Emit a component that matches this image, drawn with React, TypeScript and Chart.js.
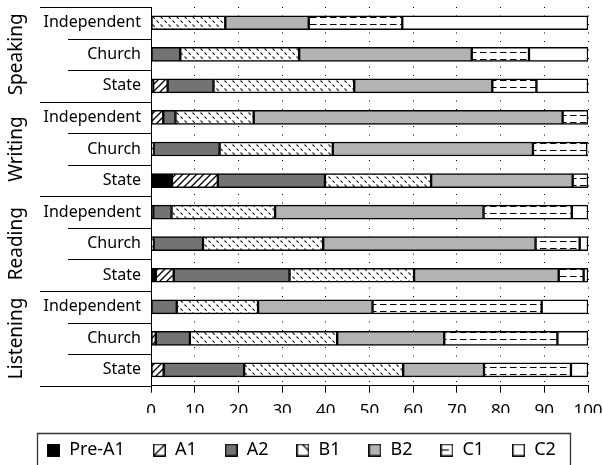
import React, { useEffect, useRef } from "react";
import { Chart, registerables } from "chart.js";

Chart.register(...registerables);

const skills = ["Speaking", "Writing", "Reading", "Listening"];
const schools = ["Independent", "Church", "State"];
const rowLabels = skills.flatMap(() => schools);
const levels = ["Pre-A1", "A1", "A2", "B1", "B2", "C1", "C2"];

// rows: Speaking (Ind, Church, State), Writing (...), Reading (...), Listening (...)
const preA1 = [0, 0, 0.5, 0, 0, 4.8, 0.5, 0, 1.1, 0, 0, 0];
const a1 = [0, 0, 3.3, 2.8, 0.6, 10.5, 0, 0.6, 4.1, 0, 1.1, 2.9];
const a2 = [0, 6.7, 10.5, 2.8, 15.1, 24.5, 4.2, 11.3, 26.5, 5.9, 7.8, 18.4];
const b1 = [17.0, 27.2, 32.2, 17.9, 25.9, 24.3, 23.7, 27.5, 28.5, 18.6, 33.7, 36.4];
const b2 = [19.1, 39.5, 31.6, 70.7, 45.8, 32.4, 47.7, 48.6, 33.1, 26.2, 24.5, 18.5];
const c1 = [21.4, 13.1, 10.1, 5.8, 12.4, 3.5, 20.2, 10.1, 5.7, 38.7, 25.9, 19.9];
const c2 = [42.5, 13.5, 11.8, 0, 0.2, 0, 3.7, 1.9, 1.0, 10.6, 7.0, 3.9];
const seriesValues = [preA1, a1, a2, b1, b2, c1, c2];

const xMin = 0;
const xMax = 100;
const xStep = 10;

const FONT = "'Noto Sans', sans-serif";
const DARK = "#737373";
const LIGHT = "#b3b3b3";
const CANVAS_H = 469;

function tile(w: number, h: number, draw: (g: CanvasRenderingContext2D) => void) {
  const c = document.createElement("canvas");
  c.width = w;
  c.height = h;
  const g = c.getContext("2d")!;
  g.fillStyle = "#fff";
  g.fillRect(0, 0, w, h);
  draw(g);
  return c;
}

function makeFills(ctx: CanvasRenderingContext2D) {
  const slash = tile(7, 7, (g) => {
    g.strokeStyle = "#000";
    g.lineWidth = 1.3;
    g.beginPath();
    g.moveTo(-1, 8);
    g.lineTo(8, -1);
    g.moveTo(-1, 1);
    g.lineTo(1, -1);
    g.moveTo(6, 8);
    g.lineTo(8, 6);
    g.stroke();
  });
  const dotted = tile(8, 8, (g) => {
    g.strokeStyle = "#222";
    g.lineWidth = 1.1;
    g.beginPath();
    g.moveTo(0.5, 0.5);
    g.lineTo(2.8, 2.8);
    g.moveTo(4.5, 4.5);
    g.lineTo(6.8, 6.8);
    g.stroke();
  });
  const dashH = tile(10, 7, (g) => {
    g.strokeStyle = "#000";
    g.lineWidth = 1;
    g.beginPath();
    g.moveTo(0, 3.5);
    g.lineTo(6.5, 3.5);
    g.stroke();
  });
  return [
    "#000",
    ctx.createPattern(slash, "repeat")!,
    DARK,
    ctx.createPattern(dotted, "repeat")!,
    LIGHT,
    ctx.createPattern(dashH, "repeat")!,
    "#fff",
  ];
}

function makeMarker(kind: number) {
  const s = 13;
  const c = document.createElement("canvas");
  c.width = s;
  c.height = s;
  const g = c.getContext("2d")!;
  const fills = ["#000", "#fff", DARK, "#fff", LIGHT, "#fff", "#fff"];
  g.fillStyle = fills[kind];
  g.fillRect(0.75, 0.75, s - 1.5, s - 1.5);
  g.strokeStyle = "#000";
  g.lineWidth = 1.4;
  g.strokeRect(0.75, 0.75, s - 1.5, s - 1.5);
  g.lineWidth = 1.2;
  g.beginPath();
  if (kind === 1) {
    g.moveTo(1, 12);
    g.lineTo(12, 1);
  } else if (kind === 3) {
    g.moveTo(6, 1);
    g.lineTo(12, 7);
  } else if (kind === 5) {
    g.moveTo(1, 6.5);
    g.lineTo(8.5, 6.5);
  }
  g.stroke();
  return c;
}

const decorPlugin = {
  id: "decor",
  afterDraw(chart: any) {
    const { ctx, chartArea } = chart;
    const y = chart.scales.y;
    ctx.save();
    ctx.strokeStyle = "#000";
    ctx.lineWidth = 1.2;
    for (let i = 0; i <= rowLabels.length; i++) {
      const yy = Math.round(y.getPixelForValue(i - 0.5)) + 0.5;
      const x0 = i % schools.length === 0 ? 40 : 68;
      ctx.beginPath();
      ctx.moveTo(x0, yy);
      ctx.lineTo(chartArea.left, yy);
      ctx.stroke();
    }
    ctx.fillStyle = "#000";
    ctx.font = `19px ${FONT}`;
    ctx.textAlign = "center";
    ctx.textBaseline = "middle";
    skills.forEach((s, gi) => {
      const n = schools.length;
      const yc = (y.getPixelForValue(gi * n - 0.5) + y.getPixelForValue(gi * n + n - 0.5)) / 2;
      ctx.save();
      ctx.translate(17, yc);
      ctx.rotate(-Math.PI / 2);
      ctx.fillText(s, 0, 0);
      ctx.restore();
    });
    const hb = chart.legend?.legendHitBoxes;
    if (hb && hb.length) {
      const first = hb[0];
      const last = hb[hb.length - 1];
      const l = Math.round(first.left - 10) + 0.5;
      const r = Math.round(last.left + last.width + 14) + 0.5;
      const t = Math.round(first.top - 8) + 0.5;
      ctx.strokeStyle = "#333";
      ctx.lineWidth = 1.3;
      ctx.beginPath();
      ctx.moveTo(l, chart.height + 5);
      ctx.lineTo(l, t);
      ctx.lineTo(r, t);
      ctx.lineTo(r, chart.height + 5);
      ctx.stroke();
    }
    ctx.restore();
  },
};

export default function App() {
  const ref = useRef<HTMLCanvasElement | null>(null);
  useEffect(() => {
    const canvas = ref.current!;
    const ctx = canvas.getContext("2d")!;
    Chart.defaults.font.family = FONT;
    const fills = makeFills(ctx);
    const markers = levels.map((_, i) => makeMarker(i));
    const chart = new Chart(canvas, {
      type: "bar",
      data: {
        labels: rowLabels,
        datasets: levels.map((lv, i) => ({
          label: lv,
          data: seriesValues[i],
          backgroundColor: fills[i] as any,
          borderColor: "#000",
          borderWidth: 1.5,
          borderSkipped: false,
          barThickness: 14,
        })),
      },
      options: {
        indexAxis: "y",
        responsive: false,
        animation: false,
        events: [],
        layout: { padding: { top: 7, right: 0, left: 0, bottom: 0 } },
        scales: {
          x: {
            stacked: true,
            min: xMin,
            max: xMax,
            afterFit: (s: any) => {
              const lh = s.chart.legend ? s.chart.legend.height : 56;
              s.height = s.chart.height - lh - 385.7;
              s.paddingRight = 15;
              s.paddingLeft = 0;
            },
            ticks: {
              stepSize: xStep,
              color: "#000",
              font: { size: 17 },
              padding: 8,
              maxRotation: 0,
              autoSkip: false,
            },
            grid: {
              color: "#000",
              lineWidth: 1,
              tickLength: 7,
              tickColor: "#000",
              tickWidth: 1,
              tickBorderDash: [],
            },
            border: { display: true, color: "#000", width: 1, dash: [1, 7.5] },
          },
          y: {
            stacked: true,
            afterFit: (s: any) => {
              s.width = 151;
              s.paddingTop = 0;
              s.paddingBottom = 0;
            },
            ticks: { color: "#000", font: { size: 16 }, padding: 10, autoSkip: false },
            grid: { display: false, drawTicks: false },
            border: { display: true, color: "#000", width: 1 },
          },
        },
        plugins: {
          tooltip: { enabled: false },
          legend: {
            position: "bottom",
            labels: {
              usePointStyle: true,
              boxWidth: 13,
              boxHeight: 13,
              padding: 28,
              color: "#000",
              font: { size: 18 },
              generateLabels: () =>
                levels.map((lv, i) => ({
                  text: lv,
                  pointStyle: markers[i] as any,
                  fillStyle: "#fff",
                  strokeStyle: "#000",
                  lineWidth: 0,
                  hidden: false,
                  datasetIndex: i,
                  fontColor: "#000",
                })),
            },
          },
        },
      },
      plugins: [decorPlugin],
    } as any);
    return () => chart.destroy();
  }, []);
  return (
    <div style={{ position: "fixed", left: 0, top: 0, width: 603, height: 465, overflow: "hidden", background: "#fff" }}>
      <canvas ref={ref} width={603} height={CANVAS_H} style={{ display: "block", width: 603, height: CANVAS_H }} />
    </div>
  );
}
